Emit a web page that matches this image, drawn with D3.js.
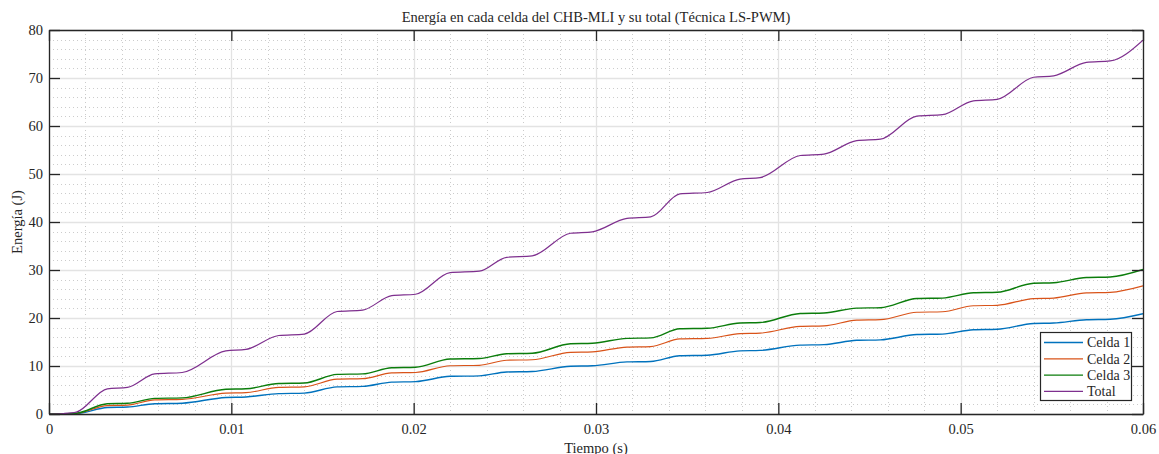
<!DOCTYPE html>
<html>
<head>
<meta charset="utf-8">
<script src="https://cdn.jsdelivr.net/npm/d3@7"></script>
<style>
  html, body { margin: 0; padding: 0; background: #ffffff; }
  svg { display: block; }
  text { font-family: "Liberation Serif", "Times New Roman", serif; fill: #262626; }
</style>
</head>
<body>
<svg id="chart" width="1159" height="454"></svg>
<script>
// Time samples (s): start of the ramp, then plateau start/end pairs, then the final instant
const timeS = [0, 0.0008, 0.0015, 0.0032, 0.0043, 0.0058, 0.0073, 0.0097, 0.0108, 0.0126, 0.0140,
  0.0158, 0.0172, 0.0188, 0.0201, 0.0220, 0.0236, 0.0251, 0.0265, 0.0286, 0.0298, 0.0317, 0.0330,
  0.0346, 0.0361, 0.0379, 0.0390, 0.0412, 0.0425, 0.0443, 0.0456, 0.0476, 0.0490, 0.0507, 0.0520,
  0.0540, 0.0551, 0.0569, 0.0582, 0.0600];

// Energy of each cell (J)
const celda1 = [0, 0.02, 0.08, 1.35, 1.45, 2.15, 2.25, 3.45, 3.55, 4.25, 4.35, 5.65, 5.75, 6.65, 6.75,
  7.85, 7.95, 8.75, 8.85, 9.95, 10.05, 10.85, 10.95, 12.15, 12.25, 13.15, 13.25, 14.35, 14.45, 15.35,
  15.45, 16.55, 16.65, 17.55, 17.65, 18.85, 18.95, 19.65, 19.75, 20.9];
const celda2 = [0, 0.03, 0.12, 1.75, 1.85, 2.95, 3.05, 4.35, 4.45, 5.55, 5.65, 7.25, 7.35, 8.55, 8.65,
  10.05, 10.15, 11.2, 11.3, 12.85, 12.95, 13.95, 14.05, 15.65, 15.75, 16.75, 16.85, 18.25, 18.35, 19.55,
  19.65, 21.2, 21.3, 22.55, 22.65, 24.05, 24.15, 25.25, 25.35, 26.7];
const celda3 = [0, 0.03, 0.15, 2.15, 2.25, 3.25, 3.35, 5.15, 5.25, 6.35, 6.45, 8.25, 8.35, 9.65, 9.75,
  11.45, 11.55, 12.55, 12.65, 14.65, 14.75, 15.75, 15.85, 17.75, 17.85, 18.95, 19.05, 20.95, 21.05, 22.05,
  22.15, 24.05, 24.15, 25.25, 25.35, 27.25, 27.35, 28.45, 28.55, 30.1];
// Total energy of the converter (J)
const total = [0, 0.1, 0.4, 5.25, 5.55, 8.35, 8.65, 13.15, 13.45, 16.35, 16.65, 21.35, 21.65, 24.65, 24.95,
  29.45, 29.75, 32.65, 32.95, 37.65, 37.95, 40.75, 41.05, 45.85, 46.15, 48.95, 49.25, 53.85, 54.15, 56.95,
  57.25, 62.05, 62.35, 65.25, 65.55, 70.15, 70.45, 73.25, 73.55, 77.9];

const seriesNames = ["Celda 1", "Celda 2", "Celda 3", "Total"];
const xTicks = [0, 0.01, 0.02, 0.03, 0.04, 0.05, 0.06];
const xTickLabels = ["0", "0.01", "0.02", "0.03", "0.04", "0.05", "0.06"];
const yTicks = [0, 10, 20, 30, 40, 50, 60, 70, 80];

const titleText = "Energía en cada celda del CHB-MLI y su total (Técnica LS-PWM)";
const xLabelText = "Tiempo (s)";
const yLabelText = "Energía (J)";

// Plot styling
const colors = ["#0072BD", "#D95319", "#0b7d0b", "#7E2F8E"];
const widths = [1.4, 1.2, 1.4, 1.2];

const svg = d3.select("#chart");
const W = 1159, H = 454;
const margin = { left: 49, right: W - 1143, top: 30, bottom: H - 414 };
const x = d3.scaleLinear().domain([0, 0.06]).range([margin.left, W - margin.right]);
const y = d3.scaleLinear().domain([0, 80]).range([H - margin.bottom, margin.top]);
const x0 = x.range()[0], x1 = x.range()[1], y0 = y.range()[0], y1 = y.range()[1];

svg.append("rect").attr("x", x0).attr("y", y1).attr("width", x1 - x0).attr("height", y0 - y1)
  .attr("fill", "#ffffff");

// Minor grid (dotted)
const xMinor = d3.range(0, 0.0601, 0.002).filter(v => Math.abs(v / 0.01 - Math.round(v / 0.01)) > 1e-6);
const yMinor = d3.range(0, 80.01, 2).filter(v => v % 10 !== 0);
const grid = svg.append("g");
grid.selectAll("line.xm").data(xMinor).join("line")
  .attr("x1", d => Math.round(x(d)) + 0.5).attr("x2", d => Math.round(x(d)) + 0.5)
  .attr("y1", y1).attr("y2", y0)
  .attr("stroke", "#cccccc").attr("stroke-width", 1).attr("stroke-dasharray", "1,3");
grid.selectAll("line.ym").data(yMinor).join("line")
  .attr("y1", d => Math.round(y(d)) + 0.5).attr("y2", d => Math.round(y(d)) + 0.5)
  .attr("x1", x0).attr("x2", x1)
  .attr("stroke", "#cccccc").attr("stroke-width", 1).attr("stroke-dasharray", "1,3");

// Major grid (solid, light)
grid.selectAll("line.xM").data(xTicks).join("line")
  .attr("x1", d => Math.round(x(d)) + 0.5).attr("x2", d => Math.round(x(d)) + 0.5)
  .attr("y1", y1).attr("y2", y0)
  .attr("stroke", "#e3e3e3").attr("stroke-width", 1.3);
grid.selectAll("line.yM").data(yTicks).join("line")
  .attr("y1", d => Math.round(y(d)) + 0.5).attr("y2", d => Math.round(y(d)) + 0.5)
  .attr("x1", x0).attr("x2", x1)
  .attr("stroke", "#e3e3e3").attr("stroke-width", 1.3);

// Data lines
svg.append("clipPath").attr("id", "plotClip").append("rect")
  .attr("x", x0).attr("y", y1).attr("width", x1 - x0).attr("height", y0 - y1);

const seriesValues = [celda1, celda2, celda3, total];
const line = d3.line()
  .x(d => x(d[0]))
  .y(d => y(d[1]))
  .curve(d3.curveMonotoneX);

const lines = svg.append("g").attr("clip-path", "url(#plotClip)");
seriesValues.forEach((vals, i) => {
  const pts = timeS.map((t, k) => [t, vals[k]]);
  lines.append("path").datum(pts)
    .attr("d", line)
    .attr("fill", "none")
    .attr("stroke", colors[i])
    .attr("stroke-width", widths[i])
    .attr("stroke-linejoin", "round");
});

// Axes with inward ticks on all four sides
const tickLen = 11;
const axisColor = "#262626";
const axisFont = 14.5;

const axBottom = svg.append("g").attr("transform", `translate(0,${y0})`)
  .call(d3.axisBottom(x).tickValues(xTicks).tickFormat((d, i) => xTickLabels[i])
    .tickSizeInner(-tickLen).tickSizeOuter(0).tickPadding(10));
const axTop = svg.append("g").attr("transform", `translate(0,${y1})`)
  .call(d3.axisTop(x).tickValues(xTicks).tickFormat("").tickSizeInner(-tickLen).tickSizeOuter(0));
const axLeft = svg.append("g").attr("transform", `translate(${x0},0)`)
  .call(d3.axisLeft(y).tickValues(yTicks).tickFormat(d3.format("d"))
    .tickSizeInner(-tickLen).tickSizeOuter(0).tickPadding(6));
const axRight = svg.append("g").attr("transform", `translate(${x1},0)`)
  .call(d3.axisRight(y).tickValues(yTicks).tickFormat("").tickSizeInner(-tickLen).tickSizeOuter(0));

[axBottom, axTop, axLeft, axRight].forEach(g => {
  g.attr("font-family", null);
  g.select(".domain").attr("stroke", axisColor).attr("stroke-width", 1.3);
  g.selectAll(".tick line").attr("stroke", axisColor).attr("stroke-width", 1.3);
  g.selectAll(".tick text").attr("font-size", axisFont).attr("fill", axisColor);
});

// Titles
svg.append("text").attr("x", (x0 + x1) / 2).attr("y", 22)
  .attr("text-anchor", "middle").attr("font-size", 14.5).text(titleText);
svg.append("text").attr("x", (x0 + x1) / 2).attr("y", 452.5)
  .attr("text-anchor", "middle").attr("font-size", 14.5).text(xLabelText);
svg.append("text")
  .attr("transform", `translate(22,${(y0 + y1) / 2}) rotate(-90)`)
  .attr("text-anchor", "middle").attr("font-size", 14.5).text(yLabelText);

// Legend
const lg = svg.append("g").attr("transform", "translate(1040.5,332.5)");
lg.append("rect").attr("width", 91).attr("height", 68)
  .attr("fill", "#ffffff").attr("stroke", axisColor).attr("stroke-width", 1.2);
seriesNames.forEach((name, i) => {
  const cy = 10 + i * 16.3;
  lg.append("line").attr("x1", 3.5).attr("x2", 42.5).attr("y1", cy).attr("y2", cy)
    .attr("stroke", colors[i]).attr("stroke-width", widths[i]);
  lg.append("text").attr("x", 46.5).attr("y", cy).attr("dy", "0.35em")
    .attr("font-size", 14).text(name);
});
</script>
</body>
</html>
